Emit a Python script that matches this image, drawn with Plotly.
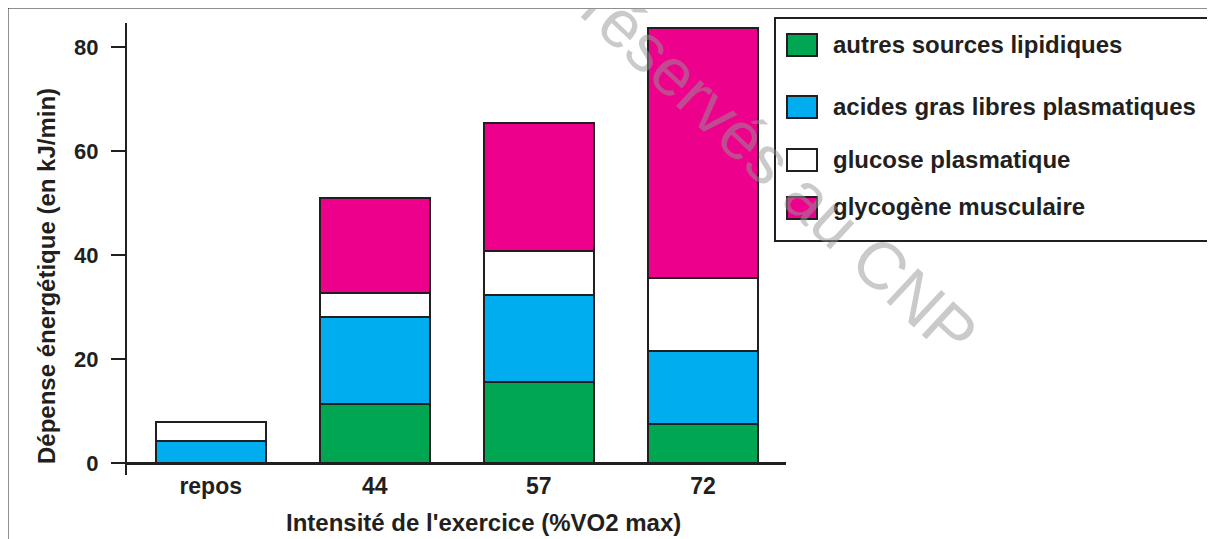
import plotly.graph_objects as go

# ---- data ----
categories = ["repos", "44", "57", "72"]
autres_sources_lipidiques = [0.0, 11.3, 15.6, 7.5]
acides_gras_libres = [4.2, 16.8, 16.7, 14.0]
glucose_plasmatique = [3.7, 4.6, 8.5, 14.1]
glycogene_musculaire = [0.0, 18.3, 24.6, 48.1]
series_names = ["autres sources lipidiques", "acides gras libres plasmatiques",
                "glucose plasmatique", "glycogène musculaire"]
y_ticks = [0, 20, 40, 60, 80]
x_title = "Intensité de l'exercice (%VO2 max)"
y_title = "Dépense énergétique (en kJ/min)"
watermark = "Droits réservés au CNP"

# ---- style ----
colors = ["#00A651", "#00AEEF", "#FFFFFF", "#EC008C"]
INK = "#231f20"
FONT = "Liberation Sans, Arial, sans-serif"
W, H = 1215, 539
OFF = 8  # page body margin
L, R, T, B = 127, 786, 23, 475  # plot area in page pixels


def px(x):
    return (x - L) / (R - L)


def py(y):
    return (B - y) / (B - T)


series_values = [autres_sources_lipidiques, acides_gras_libres,
                 glucose_plasmatique, glycogene_musculaire]

fig = go.Figure()
for name, vals, col in zip(series_names, series_values, colors):
    fig.add_trace(go.Bar(
        x=categories, y=vals, name=name, width=0.67,
        marker=dict(color=col, line=dict(color=INK, width=2)),
        showlegend=False,
    ))

shapes = [
    # outer frame (top and left edges)
    dict(type="line", xref="paper", yref="paper", x0=px(0), x1=px(W + 20), y0=py(7), y1=py(7),
         line=dict(color=INK, width=3)),
    dict(type="line", xref="paper", yref="paper", x0=px(7), x1=px(7), y0=py(7), y1=py(H + 20),
         line=dict(color=INK, width=3)),
    # legend box
    dict(type="rect", xref="paper", yref="paper", x0=px(775), x1=px(1211), y0=py(18), y1=py(241),
         line=dict(color=INK, width=2), fillcolor="white", layer="above"),
]
annotations = []
row_centers = [45, 107, 160, 208]
for name, col, cy in zip(series_names, colors, row_centers):
    shapes.append(dict(type="rect", xref="paper", yref="paper",
                       x0=px(787), x1=px(817), y0=py(cy - 11), y1=py(cy + 11),
                       line=dict(color=INK, width=2), fillcolor=col, layer="above"))
    annotations.append(dict(text=name, xref="paper", yref="paper", x=px(831), y=py(cy - 1),
                            xanchor="left", yanchor="middle", showarrow=False,
                            font=dict(family=FONT, size=24, color=INK, weight="bold")))

annotations.append(dict(text=x_title, xref="paper", yref="paper", x=px(484), y=py(522),
                        xanchor="center", yanchor="middle", showarrow=False,
                        font=dict(family=FONT, size=24, color=INK, weight="bold")))
annotations.append(dict(text=y_title, xref="paper", yref="paper", x=px(46), y=py(276),
                        xanchor="center", yanchor="middle", showarrow=False, textangle=-90,
                        font=dict(family=FONT, size=24, color=INK, weight="bold")))
annotations.append(dict(text=watermark, xref="paper", yref="paper", x=px(709), y=py(105),
                        xanchor="center", yanchor="middle", showarrow=False, textangle=43,
                        font=dict(family=FONT, size=67, color="rgba(150,150,150,0.5)")))

fig.update_layout(
    width=W, height=H,
    margin=dict(l=L - OFF, r=W - (R - OFF), t=T - OFF, b=H - (B - OFF)),
    paper_bgcolor="white", plot_bgcolor="white",
    barmode="stack", bargap=0.33,
    showlegend=False,
    shapes=shapes, annotations=annotations,
    xaxis=dict(type="category", range=[-0.51, 3.506], showline=False, showgrid=False,
               ticks="", ticklabelstandoff=-5,
               tickfont=dict(family=FONT, size=23, color=INK, weight="bold"),
               zeroline=False, fixedrange=True),
    yaxis=dict(range=[-2.3, 84.6], tickvals=y_ticks, showgrid=False, showline=True,
               linecolor=INK, linewidth=2, ticks="outside", ticklen=14, tickwidth=2,
               tickcolor=INK, ticklabelstandoff=8,
               tickfont=dict(family=FONT, size=22, color=INK, weight="bold"),
               zeroline=True, zerolinecolor=INK, zerolinewidth=2.5),
)

fig.write_html("out.html")
